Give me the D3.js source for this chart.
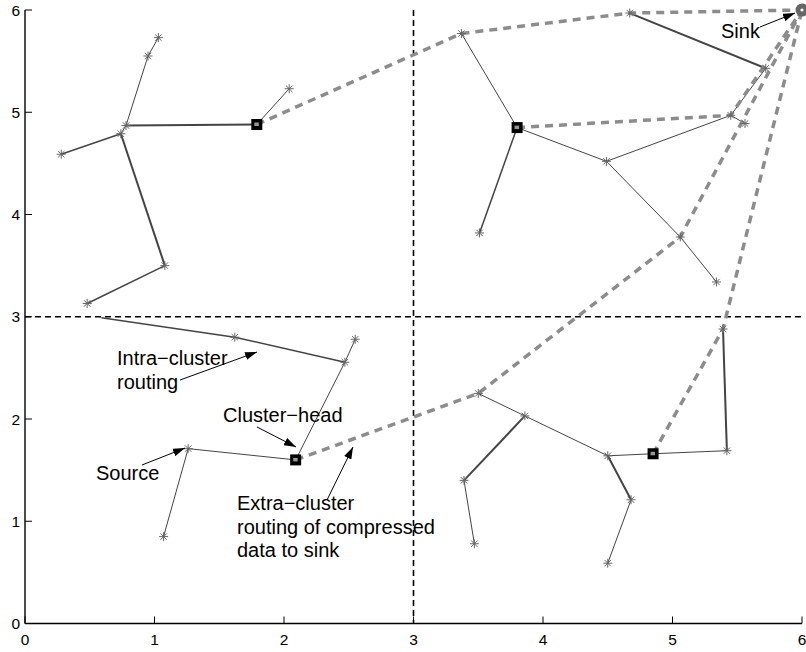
<!DOCTYPE html>
<html>
<head>
<meta charset="utf-8">
<script src="https://cdn.jsdelivr.net/npm/d3@7"></script>
<style>
  body { margin: 0; background: #fff; }
  svg { display: block; font-family: "Liberation Sans", Arial, Helvetica, sans-serif; }
</style>
</head>
<body>
<div id="chart"></div>
<script>
// Sensor node positions (id, x, y, kind)
const nodes = [
  // top-left cluster
  ["a0", 1.03, 5.73, "node"], ["a1", 0.95, 5.55, "node"], ["a2", 0.78, 4.87, "node"],
  ["a3", 0.74, 4.79, "node"], ["a4", 0.28, 4.59, "node"], ["a5", 1.08, 3.50, "node"],
  ["a6", 0.48, 3.13, "node"], ["a7", 2.04, 5.23, "node"], ["A", 1.79, 4.88, "head"],
  // top-right cluster
  ["b0", 3.37, 5.77, "node"], ["b1", 3.51, 3.82, "node"], ["b2", 4.49, 4.52, "node"],
  ["b3", 4.67, 5.97, "node"], ["b4", 5.72, 5.43, "node"], ["b5", 5.45, 4.97, "node"],
  ["b6", 5.56, 4.89, "node"], ["b7", 5.06, 3.78, "node"], ["b8", 5.34, 3.34, "node"],
  ["B", 3.80, 4.85, "head"],
  // bottom-left cluster
  ["c0", 0.59, 2.99, "hidden"], ["c1", 1.62, 2.80, "node"], ["c2", 2.47, 2.555, "node"],
  ["c3", 2.55, 2.78, "node"], ["c4", 1.26, 1.71, "node"], ["c5", 1.07, 0.85, "node"],
  ["C", 2.09, 1.60, "head"],
  // bottom-right cluster
  ["d0", 3.50, 2.25, "node"], ["d1", 3.86, 2.03, "node"], ["d2", 3.39, 1.40, "node"],
  ["d3", 3.47, 0.78, "node"], ["d4", 4.50, 1.64, "node"], ["d5", 4.68, 1.21, "node"],
  ["d6", 4.50, 0.59, "node"], ["d7", 5.42, 1.69, "node"], ["d8", 5.39, 2.88, "node"],
  ["D", 4.85, 1.66, "head"],
  ["sink", 6.0, 6.0, "sink"]
];

// Intra-cluster links: from, to, weight (1 thin, 2 medium, 3 thick)
const links = [
  ["a0", "a1", 1], ["a1", "a2", 1], ["a2", "A", 3], ["A", "a7", 1], ["a2", "a3", 1],
  ["a3", "a4", 2], ["a3", "a5", 3], ["a5", "a6", 2],
  ["b0", "B", 1], ["B", "b1", 2], ["B", "b2", 1], ["b2", "b5", 1], ["b5", "b4", 1],
  ["b4", "b3", 3], ["b2", "b7", 1], ["b7", "b8", 1], ["b5", "b6", 1],
  ["c0", "c1", 2], ["c1", "c2", 2], ["c2", "c3", 1], ["c2", "C", 1], ["c4", "C", 1], ["c4", "c5", 1],
  ["d0", "d1", 1], ["d1", "d4", 1], ["d1", "d2", 3], ["d2", "d3", 1], ["d4", "D", 1],
  ["D", "d7", 1], ["d7", "d8", 3], ["d4", "d5", 3], ["d5", "d6", 1]
];

// Extra-cluster routes from each cluster head to the sink
const routes = [
  ["A", "b0", "b3", "sink"],
  ["B", "b5", "sink"],
  ["C", "d0", "b7", "sink"],
  ["D", "d8", "sink"]
];

// Cluster boundaries
const dividersX = [3];
const dividersY = [3];

const ticks = [0, 1, 2, 3, 4, 5, 6];

// Annotations: text lines, text anchor (px), arrow from -> to (px)
const notes = [
  { lines: ["Intra\u2212cluster", "routing"], x: 117, y: 365, from: [180, 380], to: [257, 352] },
  { lines: ["Cluster\u2212head"], x: 223, y: 422, from: [257, 427], to: [296, 447] },
  { lines: ["Source"], x: 96, y: 480, from: [142, 465], to: [185, 448] },
  { lines: ["Extra\u2212cluster", "routing of compressed", "data to sink"], x: 237, y: 510, from: [327, 500], to: [353, 447] },
  { lines: ["Sink"], x: 721, y: 38, from: [760, 27], to: [795, 13] }
];

const W = 806, H = 652;
const x = d3.scaleLinear().domain([0, 6]).range([25, 802]);
const y = d3.scaleLinear().domain([0, 6]).range([623.5, 10]);

const svg = d3.select("#chart").append("svg")
  .attr("width", W).attr("height", H);

svg.append("defs").append("marker")
  .attr("id", "arrow")
  .attr("viewBox", "0 0 12 8")
  .attr("refX", 12).attr("refY", 4)
  .attr("markerWidth", 12).attr("markerHeight", 8)
  .attr("markerUnits", "userSpaceOnUse")
  .attr("orient", "auto")
  .append("path").attr("d", "M0,0 L12,4 L0,8 Z").attr("fill", "#000");

const byId = new Map(nodes.map(n => [n[0], n]));
const px = id => x(byId.get(id)[1]);
const py = id => y(byId.get(id)[2]);

// dashed cluster dividers
svg.selectAll(".divx").data(dividersX).join("line")
  .attr("x1", d => x(d)).attr("x2", d => x(d))
  .attr("y1", y(6)).attr("y2", y(0))
  .attr("stroke", "#000").attr("stroke-width", 1.6).attr("stroke-dasharray", "6,4");
svg.selectAll(".divy").data(dividersY).join("line")
  .attr("x1", x(0)).attr("x2", x(6))
  .attr("y1", d => y(d)).attr("y2", d => y(d))
  .attr("stroke", "#000").attr("stroke-width", 1.6).attr("stroke-dasharray", "6,4");

// intra-cluster links
const widths = { 1: 1, 2: 1.5, 3: 2 };
svg.selectAll(".link").data(links).join("line")
  .attr("x1", d => px(d[0])).attr("y1", d => py(d[0]))
  .attr("x2", d => px(d[1])).attr("y2", d => py(d[1]))
  .attr("stroke", "#444").attr("stroke-width", d => widths[d[2]]);

// extra-cluster routes
const line = d3.line().x(id => px(id)).y(id => py(id));
svg.selectAll(".route").data(routes).join("path")
  .attr("d", line)
  .attr("fill", "none").attr("stroke", "#8c8c8c")
  .attr("stroke-width", 3.5).attr("stroke-dasharray", "8,6");

// star markers
const star = "M-4.5,0L4.5,0M0,-4.5L0,4.5M-3.2,-3.2L3.2,3.2M-3.2,3.2L3.2,-3.2";
svg.selectAll(".star").data(nodes.filter(n => n[3] === "node")).join("path")
  .attr("transform", d => `translate(${x(d[1])},${y(d[2])})`)
  .attr("d", star).attr("stroke", "#666").attr("stroke-width", 1).attr("fill", "none");

// cluster heads
const heads = svg.selectAll(".head").data(nodes.filter(n => n[3] === "head")).join("g")
  .attr("transform", d => `translate(${x(d[1])},${y(d[2])})`);
heads.append("rect").attr("x", -5.5).attr("y", -5.5).attr("width", 11).attr("height", 11).attr("fill", "#000");
heads.append("rect").attr("x", -2.5).attr("y", -2).attr("width", 4.5).attr("height", 3.5).attr("fill", "#999");

// sink
const sink = svg.selectAll(".sink").data(nodes.filter(n => n[3] === "sink")).join("g")
  .attr("transform", d => `translate(${x(d[1])},${y(d[2])})`);
sink.append("circle").attr("r", 6.5).attr("fill", "#666");
sink.append("circle").attr("r", 1.6).attr("fill", "#fff");

// axes (left and bottom only, ticks inward)
svg.append("line").attr("x1", x(0)).attr("x2", x(0)).attr("y1", y(0)).attr("y2", y(6))
  .attr("stroke", "#000").attr("stroke-width", 1.4);
svg.append("line").attr("x1", x(0)).attr("x2", x(6)).attr("y1", y(0)).attr("y2", y(0))
  .attr("stroke", "#000").attr("stroke-width", 1.4);

svg.selectAll(".ytick").data(ticks).join("line")
  .attr("x1", x(0)).attr("x2", x(0) + 7).attr("y1", d => y(d)).attr("y2", d => y(d))
  .attr("stroke", "#000");
svg.selectAll(".xtick").data(ticks).join("line")
  .attr("x1", d => x(d)).attr("x2", d => x(d)).attr("y1", y(0)).attr("y2", y(0) - 7)
  .attr("stroke", "#000");

svg.selectAll(".ylab").data(ticks).join("text")
  .attr("x", x(0) - 5).attr("y", d => y(d) + 5.5)
  .attr("text-anchor", "end").attr("font-size", 15.5).text(d => d);
svg.selectAll(".xlab").data(ticks).join("text")
  .attr("x", d => x(d)).attr("y", 645)
  .attr("text-anchor", "middle").attr("font-size", 15.5).text(d => d);

// annotations
notes.forEach(n => {
  const t = svg.append("text").attr("font-size", 20).attr("fill", "#000");
  n.lines.forEach((s, i) => {
    t.append("tspan").attr("x", n.x).attr("y", n.y + i * 23.5).text(s);
  });
  svg.append("line")
    .attr("x1", n.from[0]).attr("y1", n.from[1])
    .attr("x2", n.to[0]).attr("y2", n.to[1])
    .attr("stroke", "#000").attr("stroke-width", 1)
    .attr("marker-end", "url(#arrow)");
});
</script>
</body>
</html>
